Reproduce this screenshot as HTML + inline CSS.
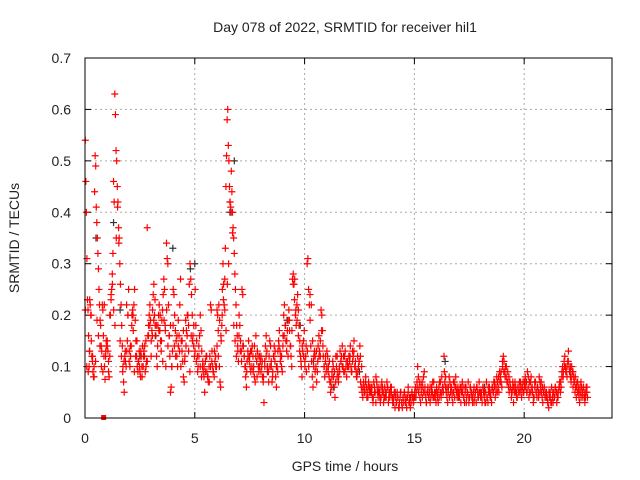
<!DOCTYPE html>
<html><head><meta charset="utf-8"><style>
body{margin:0;background:#fff}
svg{display:block;font-family:"Liberation Sans",sans-serif}
</style></head><body>
<svg id="chart" width="640" height="480" viewBox="0 0 640 480">
<text x="345" y="32" font-size="14" text-anchor="middle" fill="#222">Day 078 of 2022, SRMTID for receiver hil1</text>
<text transform="translate(19,238) rotate(-90)" font-size="14" text-anchor="middle" fill="#222">SRMTID / TECUs</text>
<text x="345" y="471" font-size="14" text-anchor="middle" fill="#222">GPS time / hours</text>
<g id="grid"></g>
<g id="ticks"></g>
<g id="marks"></g>
<rect x="85" y="58" width="527" height="360" fill="none" stroke="#000" stroke-width="1"/>
</svg>
<script>
const xTicks=[0,5,10,15,20];
const yTicks=[0,0.1,0.2,0.3,0.4,0.5,0.6,0.7];
const yTickLabels=["0","0.1","0.2","0.3","0.4","0.5","0.6","0.7"];
const binStart=[0,1,2,3,4,5,6,7,8,9,10,11,12,13,14,15,16,17,18,19,20,21,22];
const binSpan=[1,1,1,1,1,1,1,1,1,1,1,1,1,1,1,1,1,1,1,1,1,1,0.9];
const redValues=[
[0.54,0.46,0.40,0.31,0.23,0.21,0.16,0.10,0.13,0.22,0.20,0.15,0.12,0.11,0.09,0.08,0.10,0.44,0.51,0.49,0.41,0.38,0.35,0.32,0.29,0.25,0.22,0.19,0.18,0.14,0.13,0.22,0.21,0.16,0.12,0.10,0.075,0.12,0.15,0.14],
[0.15,0.13,0.09,0.08,0.12,0.2,0.23,0.25,0.28,0.32,0.46,0.42,0.63,0.59,0.52,0.5,0.45,0.42,0.37,0.35,0.3,0.26,0.22,0.18,0.14,0.1,0.07,0.05,0.12,0.11,0.1,0.13,0.15,0.2,0.25],
[0.13,0.1,0.12,0.14,0.2,0.21,0.17,0.22,0.25,0.19,0.15,0.12,0.1,0.09,0.11,0.13,0.09,0.08,0.12,0.1,0.14,0.1,0.13,0.12,0.09,0.15,0.11,0.37,0.16,0.18,0.2,0.22,0.19],
[0.15,0.17,0.21,0.24,0.26,0.2,0.18,0.16,0.12,0.1,0.18,0.2,0.22,0.17,0.15,0.13,0.19,0.21,0.24,0.27,0.25,0.18,0.1,0.34,0.31,0.3,0.22,0.16,0.12,0.05,0.06,0.1,0.13],
[0.25,0.24,0.2,0.17,0.15,0.12,0.1,0.14,0.16,0.22,0.27,0.15,0.13,0.11,0.08,0.07,0.12,0.19,0.17,0.16,0.2,0.18,0.26,0.3,0.27,0.24,0.2,0.16,0.14,0.12],
[0.25,0.18,0.15,0.12,0.1,0.14,0.16,0.2,0.17,0.13,0.1,0.09,0.08,0.05,0.11,0.12,0.09,0.08,0.07,0.1,0.12,0.22,0.21,0.13,0.1,0.09,0.08,0.11,0.12,0.1],
[0.21,0.2,0.17,0.22,0.1,0.07,0.06,0.15,0.18,0.25,0.3,0.26,0.22,0.27,0.33,0.45,0.51,0.58,0.6,0.53,0.5,0.45,0.42,0.41,0.48,0.44,0.4,0.37,0.35,0.32,0.28,0.25,0.22,0.18,0.16,0.13,0.11],
[0.2,0.18,0.15,0.13,0.25,0.24,0.14,0.12,0.1,0.08,0.06,0.11,0.13,0.15,0.12,0.1,0.09,0.13,0.14,0.12,0.1,0.08,0.07,0.16,0.11,0.13,0.12,0.09,0.1,0.11],
[0.12,0.1,0.08,0.07,0.03,0.11,0.14,0.16,0.13,0.1,0.09,0.12,0.15,0.14,0.1,0.07,0.09,0.12,0.14,0.11,0.08,0.06,0.1,0.13,0.15,0.17,0.13,0.12,0.1,0.09],
[0.16,0.2,0.22,0.18,0.15,0.13,0.17,0.19,0.21,0.17,0.14,0.12,0.1,0.27,0.28,0.26,0.27,0.2,0.18,0.22,0.24,0.21,0.18,0.15,0.12,0.1,0.08,0.13,0.15,0.17],
[0.1,0.12,0.09,0.3,0.31,0.25,0.22,0.19,0.14,0.11,0.08,0.06,0.1,0.13,0.12,0.1,0.07,0.09,0.14,0.16,0.13,0.12,0.21,0.2,0.17,0.12,0.1,0.08,0.11,0.09],
[0.13,0.12,0.1,0.08,0.07,0.05,0.06,0.09,0.11,0.08,0.06,0.04,0.07,0.1,0.12,0.09,0.08,0.1,0.13,0.11,0.12,0.14,0.1,0.09,0.12,0.13,0.1,0.08,0.11,0.1],
[0.12,0.11,0.14,0.1,0.09,0.13,0.12,0.15,0.1,0.11,0.09,0.08,0.12,0.1,0.11,0.14,0.07,0.06,0.05,0.04,0.07,0.06,0.05,0.08,0.06,0.05,0.04,0.07,0.06,0.05],
[0.06,0.05,0.04,0.03,0.07,0.06,0.05,0.08,0.07,0.05,0.04,0.06,0.05,0.03,0.04,0.07,0.06,0.05,0.04,0.06,0.05,0.04,0.07,0.06,0.03,0.05,0.04,0.06,0.05,0.04],
[0.04,0.03,0.05,0.02,0.04,0.03,0.05,0.04,0.02,0.03,0.04,0.05,0.03,0.02,0.04,0.03,0.05,0.04,0.03,0.02,0.04,0.05,0.03,0.04,0.02,0.03,0.05,0.04,0.03,0.04],
[0.04,0.06,0.05,0.07,0.1,0.08,0.06,0.04,0.03,0.05,0.07,0.06,0.08,0.09,0.05,0.04,0.03,0.05,0.06,0.04,0.05,0.03,0.04,0.06,0.05,0.04,0.07,0.05,0.04,0.03],
[0.05,0.04,0.03,0.06,0.07,0.05,0.04,0.08,0.06,0.05,0.12,0.07,0.06,0.05,0.04,0.03,0.06,0.08,0.07,0.05,0.06,0.04,0.03,0.05,0.07,0.06,0.08,0.05,0.04,0.06],
[0.05,0.04,0.06,0.03,0.05,0.07,0.06,0.04,0.03,0.05,0.06,0.04,0.05,0.07,0.03,0.04,0.06,0.05,0.04,0.03,0.05,0.06,0.04,0.05,0.03,0.06,0.05,0.04,0.07,0.05],
[0.04,0.05,0.03,0.06,0.05,0.04,0.03,0.05,0.07,0.04,0.03,0.05,0.06,0.04,0.05,0.03,0.06,0.05,0.07,0.06,0.04,0.05,0.08,0.07,0.06,0.05,0.09,0.08,0.07,0.06],
[0.1,0.12,0.11,0.09,0.1,0.08,0.07,0.09,0.06,0.05,0.07,0.06,0.04,0.05,0.06,0.03,0.05,0.07,0.06,0.05,0.04,0.06,0.05,0.07,0.06,0.05,0.04,0.06,0.07,0.05],
[0.06,0.08,0.07,0.05,0.09,0.06,0.04,0.05,0.07,0.08,0.06,0.05,0.03,0.04,0.06,0.07,0.05,0.04,0.06,0.05,0.08,0.07,0.06,0.05,0.04,0.03,0.05,0.06,0.04,0.05],
[0.05,0.04,0.03,0.02,0.04,0.05,0.03,0.06,0.04,0.03,0.05,0.04,0.06,0.05,0.03,0.04,0.05,0.06,0.07,0.05,0.06,0.08,0.1,0.09,0.11,0.12,0.1,0.09,0.08,0.11],
[0.13,0.1,0.09,0.08,0.07,0.1,0.09,0.06,0.08,0.07,0.05,0.06,0.04,0.07,0.05,0.06,0.04,0.03,0.05,0.07,0.06,0.05,0.04,0.06,0.05,0.03,0.04,0.06,0.05,0.04]
];
const redValuesExtra=[
[0.21,0.1,0.09,0.23,0.2,0.12,0.08,0.11,0.19,0.16,0.14,0.1,0.09,0.22,0.13],
[0.14,0.11,0.2,0.24,0.26,0.21,0.18,0.35,0.41,0.34,0.15,0.12,0.09,0.11,0.13,0.22,0.2],
[0.11,0.14,0.18,0.2,0.09,0.12,0.15,0.11,0.1,0.13,0.08,0.12,0.14,0.1,0.11,0.16,0.18],
[0.12,0.16,0.19,0.23,0.18,0.14,0.17,0.2,0.15,0.11,0.19,0.17,0.21,0.14,0.16,0.18,0.1],
[0.18,0.14,0.12,0.16,0.19,0.13,0.1,0.15,0.17,0.11,0.14,0.2,0.13,0.09,0.16,0.15,0.18],
[0.13,0.11,0.09,0.12,0.1,0.08,0.11,0.1,0.09,0.12,0.08,0.07,0.1,0.11,0.09,0.13,0.1],
[0.14,0.12,0.19,0.16,0.2,0.23,0.21,0.17,0.26,0.3,0.42,0.4,0.36,0.18,0.15,0.12,0.14],
[0.16,0.13,0.11,0.14,0.12,0.1,0.09,0.12,0.11,0.13,0.1,0.09,0.14,0.12,0.08,0.1,0.12],
[0.09,0.11,0.08,0.1,0.12,0.09,0.07,0.1,0.11,0.08,0.12,0.13,0.1,0.09,0.14,0.11,0.12],
[0.14,0.16,0.18,0.15,0.12,0.19,0.14,0.17,0.26,0.23,0.21,0.19,0.16,0.13,0.11,0.14,0.12],
[0.11,0.14,0.13,0.1,0.24,0.22,0.15,0.12,0.09,0.13,0.11,0.12,0.15,0.17,0.14,0.1,0.12],
[0.1,0.09,0.11,0.07,0.08,0.1,0.09,0.12,0.08,0.07,0.09,0.11,0.1,0.12,0.09,0.11,0.1],
[0.1,0.12,0.09,0.11,0.13,0.1,0.08,0.09,0.11,0.12,0.1,0.06,0.05,0.07,0.04,0.06,0.05],
[0.05,0.06,0.04,0.05,0.03,0.06,0.05,0.04,0.06,0.05,0.03,0.04,0.05,0.06,0.04,0.05,0.06],
[0.03,0.04,0.05,0.03,0.04,0.02,0.05,0.03,0.04,0.05,0.03,0.04,0.06,0.03,0.04,0.05,0.04],
[0.05,0.04,0.06,0.05,0.07,0.06,0.04,0.05,0.06,0.03,0.05,0.04,0.06,0.05,0.07,0.04,0.05],
[0.06,0.05,0.04,0.07,0.05,0.06,0.09,0.08,0.06,0.05,0.04,0.06,0.05,0.07,0.04,0.06,0.05],
[0.04,0.05,0.06,0.05,0.04,0.06,0.03,0.05,0.04,0.06,0.05,0.04,0.03,0.05,0.06,0.04,0.05],
[0.05,0.04,0.06,0.05,0.03,0.04,0.06,0.05,0.04,0.06,0.05,0.07,0.06,0.05,0.08,0.07,0.09],
[0.11,0.09,0.08,0.1,0.07,0.08,0.06,0.05,0.07,0.06,0.05,0.04,0.06,0.05,0.07,0.06,0.05],
[0.07,0.06,0.05,0.08,0.07,0.05,0.06,0.04,0.07,0.05,0.06,0.04,0.05,0.07,0.06,0.05,0.04],
[0.04,0.03,0.05,0.04,0.03,0.05,0.04,0.06,0.05,0.04,0.06,0.07,0.09,0.08,0.1,0.09,0.1],
[0.11,0.09,0.1,0.08,0.09,0.07,0.08,0.06,0.07,0.05,0.06,0.04,0.05,0.06,0.04,0.05,0.06]
];
const blackHours=[0.2,0.5,1.3,1.6,2.5,3.2,4.0,4.8,5.0,6.6,6.8,7.5,8.3,9.2,9.8,10.4,11.3,12.5,13.4,14.8,16.4,18.2,20.1,22.1];
const blackValues=[0.13,0.35,0.38,0.21,0.12,0.16,0.33,0.29,0.3,0.4,0.5,0.12,0.1,0.19,0.18,0.11,0.06,0.09,0.05,0.04,0.11,0.06,0.07,0.09];
const outlierHours=[0.85];
const outlierValues=[0];

const X0=85,X1=612,Y0=418,Y1=58;
function sx(h){return X0+h/24*(X1-X0);}
function sy(v){return Y0-v/0.7*(Y0-Y1);}
const NS="http://www.w3.org/2000/svg";
const grid=document.getElementById('grid'),ticks=document.getElementById('ticks'),marks=document.getElementById('marks');
function el(t,a,p){const e=document.createElementNS(NS,t);for(const k in a)e.setAttribute(k,a[k]);p.appendChild(e);return e;}
xTicks.forEach(t=>{
  const x=sx(t);
  const g=el('line',{x1:x,x2:x,y1:Y1,y2:Y0,stroke:'#aaa','stroke-dasharray':'2,3'},grid);
  
  
  el('line',{x1:x,x2:x,y1:Y0,y2:Y0-6,stroke:'#000'},grid);
  el('line',{x1:x,x2:x,y1:Y1,y2:Y1+6,stroke:'#000'},grid);
  const tx=el('text',{x:x,y:443,'font-size':14,'text-anchor':'middle',fill:'#222'},ticks);
  tx.textContent=String(t);
  
  
});
yTicks.forEach((t,i)=>{
  const y=sy(t);
  const g=el('line',{x1:X0,x2:X1,y1:y,y2:y,stroke:'#aaa','stroke-dasharray':'2,3'},grid);
  
  
  el('line',{x1:X0,x2:X0+6,y1:y,y2:y,stroke:'#000'},grid);
  el('line',{x1:X1,x2:X1-6,y1:y,y2:y,stroke:'#000'},grid);
  const tx=el('text',{x:71,y:y+5,'font-size':14,'text-anchor':'end',fill:'#222'},ticks);
  tx.textContent=yTickLabels[i];
  
  
});
function cross(h,v,color,name){
  const x=sx(h),y=sy(v);
  const p=el('path',{d:`M${x-3.5},${y}H${x+3.5}M${x},${y-3.5}V${y+3.5}`,stroke:color,'stroke-width':1.2,fill:'none'},marks);
  
  
}
blackHours.forEach((h,i)=>cross(h,blackValues[i],'#333','black-point'));
redValues.forEach((vals,b)=>{
  vals.forEach((v,i)=>cross(binStart[b]+(i+0.5)/vals.length*binSpan[b],v,'#f00','red-point'));
});
redValuesExtra.forEach((vals,b)=>{
  vals.forEach((v,i)=>cross(binStart[b]+(i+0.2)/vals.length*binSpan[b],v,'#f00','red-point'));
});
outlierHours.forEach((h,i)=>{
  const r=el('rect',{x:sx(h)-2.5,y:sy(outlierValues[i])-3,width:5,height:5,fill:'#f00'},marks);
  
  
});
</script>
</body></html>
